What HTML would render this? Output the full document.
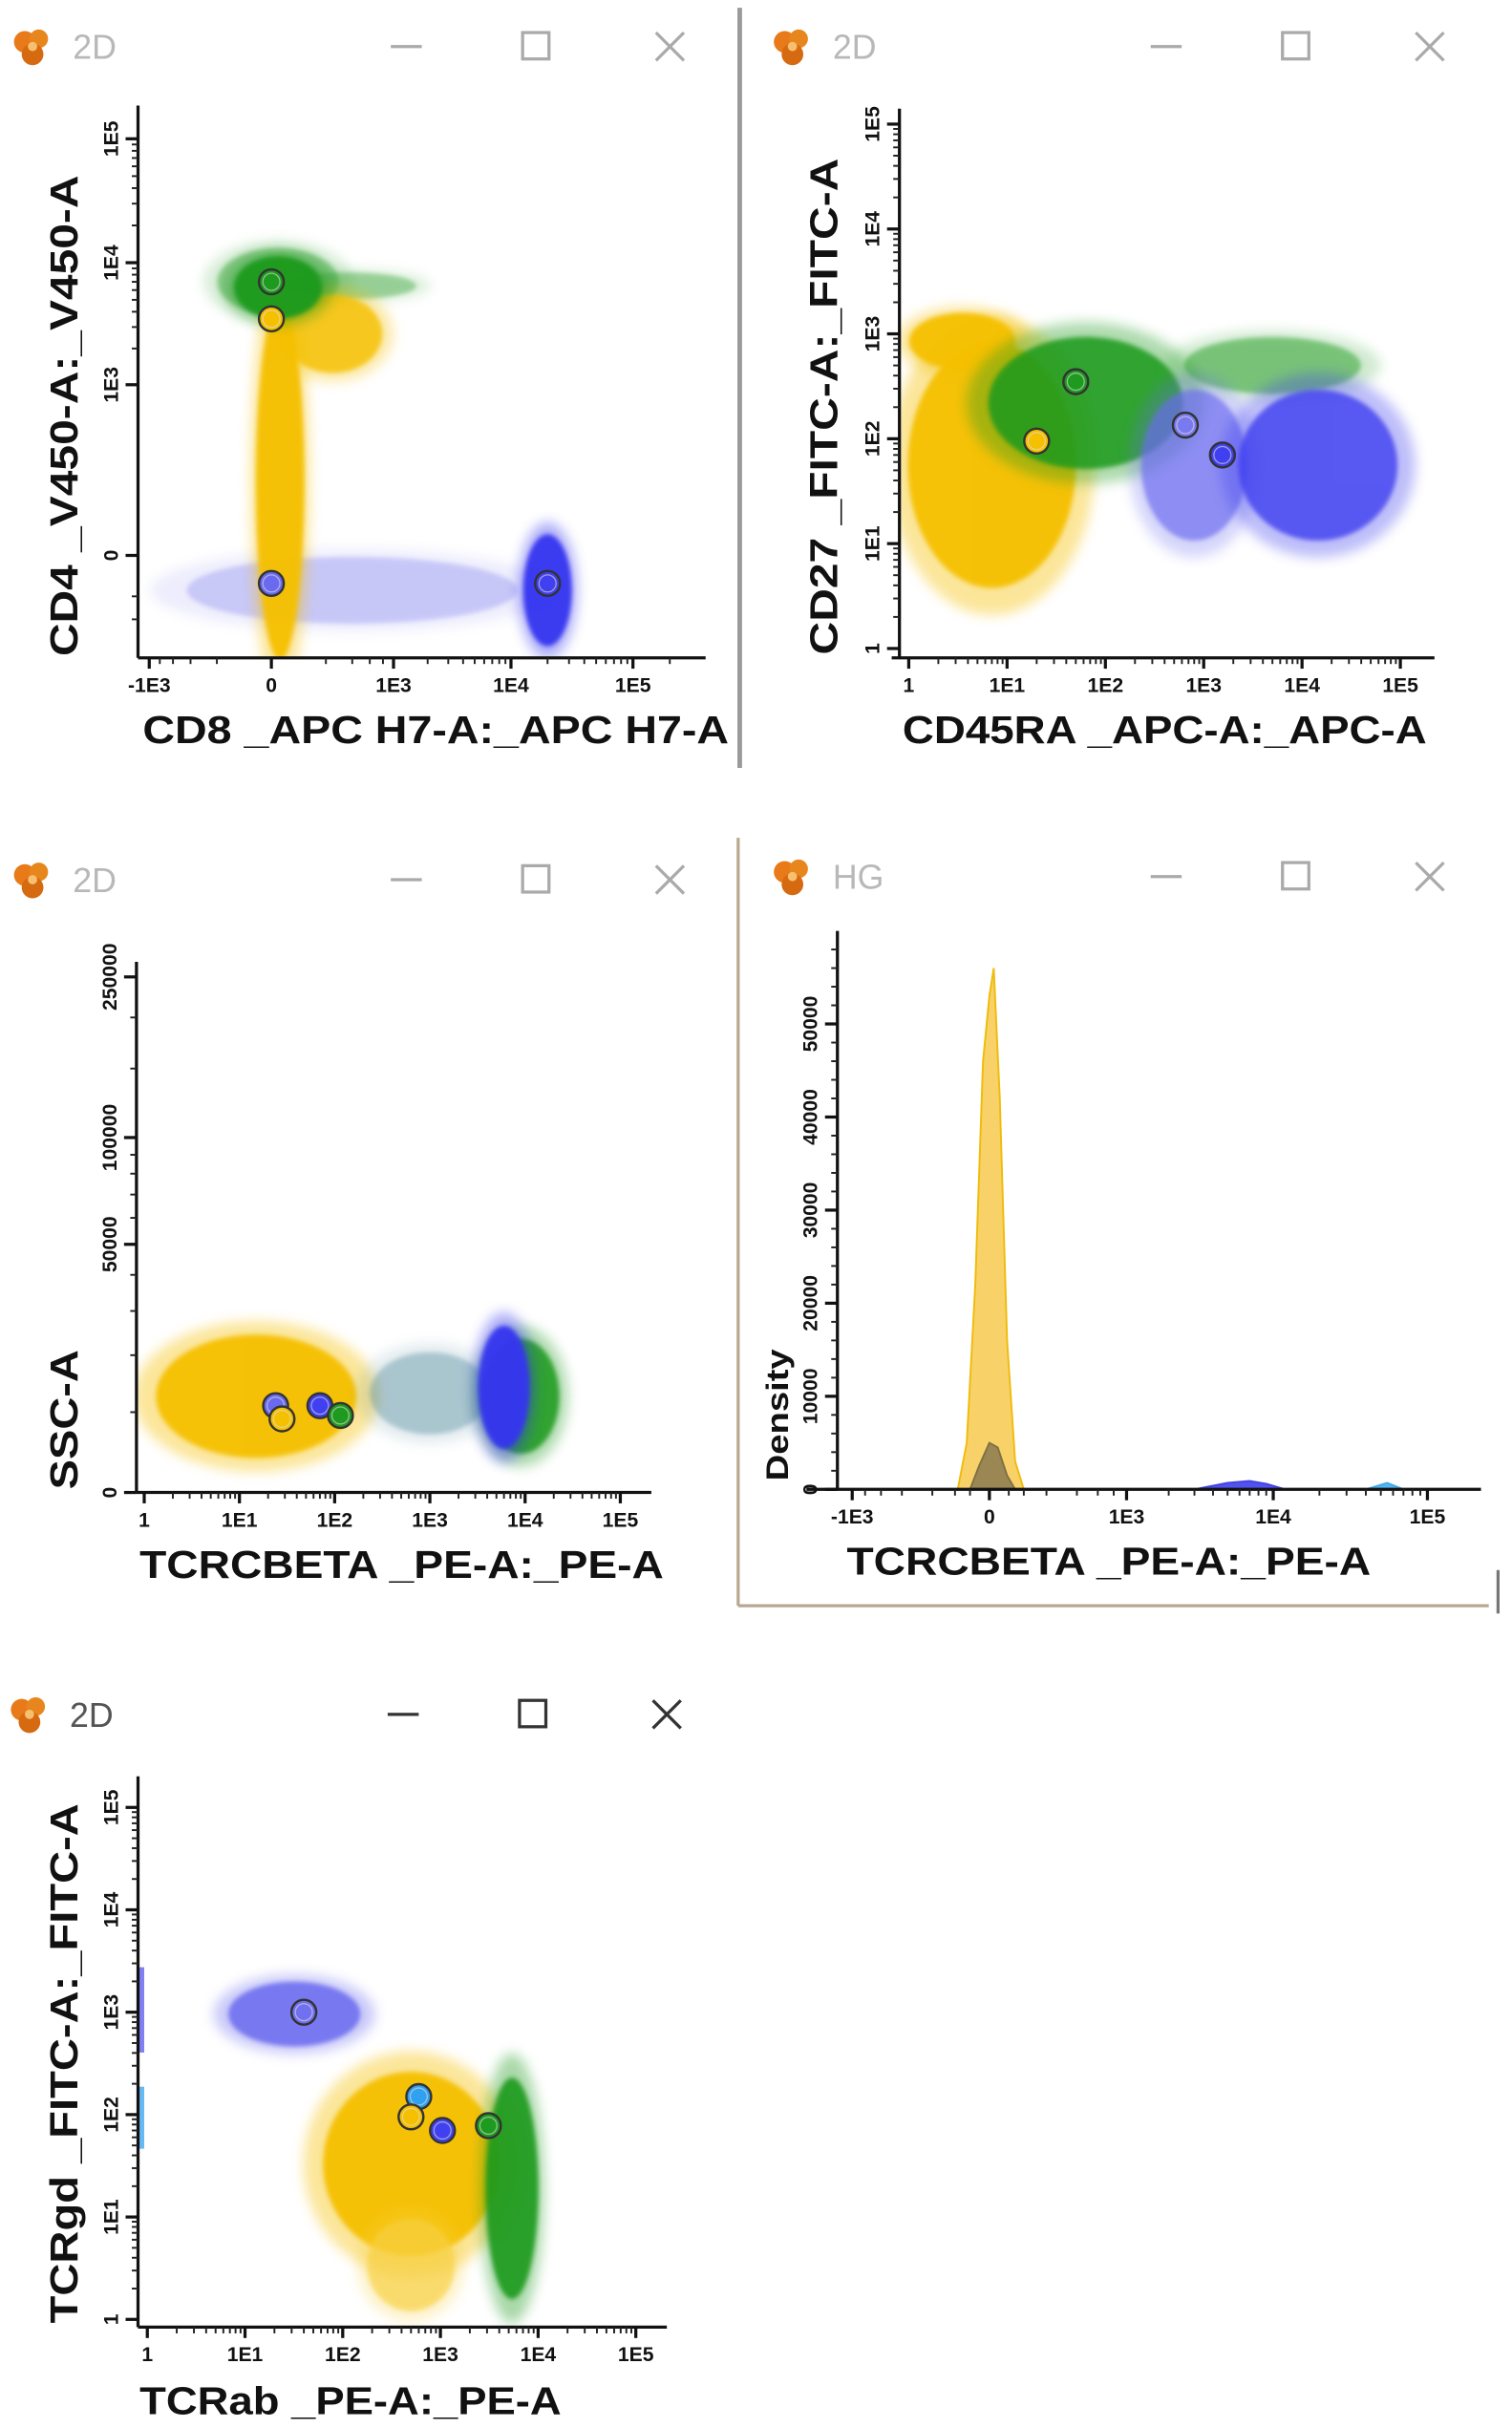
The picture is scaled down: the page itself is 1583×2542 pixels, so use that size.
<!DOCTYPE html>
<html><head><meta charset="utf-8"><style>
html,body{margin:0;padding:0;background:#fff;}
svg{display:block;}
text{font-family:"Liberation Sans",Arial,sans-serif;}
</style></head><body>
<svg id="root" width="1583" height="2542" viewBox="0 0 975 1565" preserveAspectRatio="none" xmlns="http://www.w3.org/2000/svg">
<defs>
<filter id="soft" x="-50%" y="-50%" width="200%" height="200%"><feGaussianBlur stdDeviation="4"/></filter>
<filter id="soft2" x="-50%" y="-50%" width="200%" height="200%"><feGaussianBlur stdDeviation="1.5"/></filter>
</defs>
<line x1="477" y1="5" x2="477" y2="495" stroke="#9a9a9a" stroke-width="3"/>
<line x1="476" y1="540" x2="476" y2="1035" stroke="#b8a890" stroke-width="2"/>
<line x1="476" y1="1035" x2="960" y2="1035" stroke="#b8a890" stroke-width="2"/>
<line x1="966" y1="1012" x2="966" y2="1040" stroke="#777" stroke-width="2"/>
<g id="content"></g>
</svg>
<script>
// ---------- DATA ----------
// Panel 1: CD8 vs CD4 (biexponential)
const p1XTicks = [-1000, 0, 1000, 10000, 100000];
const p1XTickLabels = ["-1E3", "0", "1E3", "1E4", "1E5"];
const p1YTicks = [0, 1000, 10000, 100000];
const p1YTickLabels = ["0", "1E3", "1E4", "1E5"];
const p1ClusterX = [400, 15, 380, 20, 242, 15, 20000];
const p1ClusterY = [-40, 7000, 6500, 131, 2640, 6300, -40];
const p1ClusterSX = [1.5, 0.55, 0.6, 0.22, 0.45, 0.4, 0.22];
const p1ClusterSY = [0.3, 0.3, 0.12, 1.6, 0.35, 0.28, 0.5];
const p1ClusterColor = ["#8080f0", "#3aa53a", "#3aa53a", "#f5c000", "#f5c000", "#1e9a1e", "#3535f0"];
const p1ClusterOpacity = [0.35, 0.5, 0.45, 1, 0.85, 1, 1];
const p1GateX = [0, 0, 0, 20000];
const p1GateY = [7000, 3500, -30, -30];
const p1GateColor = ["#1e9a1e", "#f5c000", "#6a6af0", "#4040f0"];

// Panel 2: CD45RA vs CD27 (log)
const p2XTicks = [1, 10, 100, 1000, 10000, 100000];
const p2XTickLabels = ["1", "1E1", "1E2", "1E3", "1E4", "1E5"];
const p2YTicks = [1, 10, 100, 1000, 10000, 100000];
const p2YTickLabels = ["1", "1E1", "1E2", "1E3", "1E4", "1E5"];
const p2ClusterX = [7, 3.5, 63, 5000, 800, 14500];
const p2ClusterY = [56, 850, 219, 500, 56, 56];
const p2ClusterSX = [0.95, 0.6, 1.1, 1.0, 0.6, 0.9];
const p2ClusterSY = [1.3, 0.3, 0.7, 0.3, 0.8, 0.8];
const p2ClusterColor = ["#f5c000", "#f5c000", "#1e9a1e", "#2aa02a", "#6a6af0", "#4040f0"];
const p2ClusterOpacity = [1, 1, 0.9, 0.55, 0.7, 0.85];
const p2GateX = [50, 20, 650, 1550];
const p2GateY = [350, 95, 135, 70];
const p2GateColor = ["#1e9a1e", "#f5c000", "#7a7af0", "#4040f0"];

// Panel 3: TCRCBETA vs SSC-A
const p3XTicks = [1, 10, 100, 1000, 10000, 100000];
const p3XTickLabels = ["1", "1E1", "1E2", "1E3", "1E4", "1E5"];
const p3YTicks = [0, 50000, 100000, 250000];
const p3YTickLabels = ["0", "50000", "100000", "250000"];
const p3ClusterX = [15, 1000, 9000, 6000];
const p3ClusterY = [12500, 13000, 12500, 14000];
const p3ClusterSX = [1.17, 0.7, 0.45, 0.3];
const p3ClusterSY = [0.15, 0.1, 0.14, 0.15];
const p3ClusterColor = ["#f5c000", "#3a7a90", "#1e9a1e", "#3535f0"];
const p3ClusterOpacity = [1, 0.35, 0.9, 1];
const p3GateX = [24, 28, 70, 115];
const p3GateY = [11000, 9000, 11000, 9500];
const p3GateColor = ["#6a6af0", "#f5c000", "#4040f0", "#1e9a1e"];

// Panel 4: histogram TCRCBETA density
const p4XTicks = [-1000, 0, 1000, 10000, 100000];
const p4XTickLabels = ["-1E3", "0", "1E3", "1E4", "1E5"];
const p4YTicks = [0, 10000, 20000, 30000, 40000, 50000];
const p4YTickLabels = ["0", "10000", "20000", "30000", "40000", "50000"];
const p4YellowX = [-90, -60, -35, -15, 0, 10, 25, 45, 70, 100];
const p4YellowD = [0, 5000, 22000, 46000, 53000, 56000, 42000, 16000, 3000, 0];
const p4GrayX = [-50, -25, 0, 20, 45, 70];
const p4GrayD = [0, 2500, 5000, 4500, 1500, 0];
const p4BlueX = [3000, 5000, 7000, 9000, 12000];
const p4BlueD = [0, 700, 900, 600, 0];
const p4CyanX = [40000, 55000, 70000];
const p4CyanD = [0, 700, 0];

// Panel 5: TCRab vs TCRgd
const p5XTicks = [1, 10, 100, 1000, 10000, 100000];
const p5XTickLabels = ["1", "1E1", "1E2", "1E3", "1E4", "1E5"];
const p5YTicks = [1, 10, 100, 1000, 10000, 100000];
const p5YTickLabels = ["1", "1E1", "1E2", "1E3", "1E4", "1E5"];
const p5ClusterX = [32, 500, 500, 5400];
const p5ClusterY = [960, 33, 3.4, 19];
const p5ClusterSX = [0.75, 1.0, 0.5, 0.3];
const p5ClusterSY = [0.35, 1.0, 0.5, 1.2];
const p5ClusterColor = ["#7070f0", "#f5c000", "#f8d040", "#1e9a1e"];
const p5ClusterOpacity = [0.95, 1, 0.7, 0.95];
const p5GateX = [40, 600, 500, 1050, 3100];
const p5GateY = [1000, 150, 95, 70, 78];
const p5GateColor = ["#7070f0", "#30a0f0", "#f5c000", "#4040f0", "#1e9a1e"];

// ---------- AXIS FUNCTIONS ----------
function logAxis(o, d, dir) { const f = v => o + dir * d * Math.log10(Math.max(v, 1e-9)); f.k = d; return f; }
function biexAxis(o, d, c, dir) { const f = v => o + dir * d * Math.sign(v) * Math.log10(1 + Math.abs(v) / c); f.k = d; return f; }

const NS = "http://www.w3.org/2000/svg";
const content = document.getElementById('content');
function mk(tag, attrs, parent) {
  const e = document.createElementNS(NS, tag);
  for (const k in attrs) e.setAttribute(k, attrs[k]);
  (parent || content).appendChild(e);
  return e;
}

function titleBar(x, y, label, dark) {
  const g = mk('g', {});
  
  
  const ic = mk('g', {}, g);
  
  
  mk('circle', {cx: x - 4, cy: y - 3, r: 7, fill: '#e87a1a'}, ic);
  mk('circle', {cx: x + 5, cy: y - 5, r: 6, fill: '#e8861e'}, ic);
  mk('circle', {cx: x + 1, cy: y + 5, r: 7, fill: '#d66a10'}, ic);
  mk('circle', {cx: x + 1, cy: y, r: 3, fill: '#f6c070'}, ic);
  const t = mk('text', {x: x + 27, y: y + 8, 'font-size': 22, fill: dark ? '#555' : '#b8b8b8'}, g);
  t.textContent = label;
  
  
  const col = dark ? '#333' : '#aaa';
  const mn = mk('line', {x1: x + 232, y1: y, x2: x + 252, y2: y, stroke: col, 'stroke-width': 2}, g);
  
  
  const sq = mk('rect', {x: x + 317, y: y - 9, width: 17, height: 17, fill: 'none', stroke: col, 'stroke-width': 2}, g);
  
  
  const cl = mk('path', {d: `M${x+403} ${y-9} L${x+421} ${y+9} M${x+421} ${y-9} L${x+403} ${y+9}`, stroke: col, 'stroke-width': 2, fill: 'none'}, g);
  
  
}

function axes(o) {
  const g = mk('g', {});
  
  
  mk('line', {x1: o.x0, y1: o.yTop, x2: o.x0, y2: o.y0, stroke: '#111', 'stroke-width': 2}, g);
  mk('line', {x1: o.xLeft !== undefined ? o.xLeft : o.x0, y1: o.y0, x2: o.xRight, y2: o.y0, stroke: '#111', 'stroke-width': 2}, g);
  if (o.minorX) o.minorX.forEach(v => { const px = o.ax(v); if (px > o.x0 - 30 && px < o.xRight) mk('line', {x1: px, y1: o.y0, x2: px, y2: o.y0 + 4, stroke: '#222', 'stroke-width': 1.2}, g); });
  if (o.minorY) o.minorY.forEach(v => { const py = o.ay(v); if (py > o.yTop && py < o.y0 + 20) mk('line', {x1: o.x0 - 4, y1: py, x2: o.x0, y2: py, stroke: '#222', 'stroke-width': 1.2}, g); });
  o.xt.forEach((v, i) => {
    const px = o.ax(v);
    mk('line', {x1: px, y1: o.y0, x2: px, y2: o.y0 + 7, stroke: '#111', 'stroke-width': 2}, g);
    const t = mk('text', {x: px, y: o.y0 + 22, 'font-size': 13, 'font-weight': 'bold', 'text-anchor': 'middle', fill: '#111'}, g);
    t.textContent = o.xl[i];
    
    
  });
  o.yt.forEach((v, i) => {
    const py = o.ay(v);
    mk('line', {x1: o.x0 - 8, y1: py, x2: o.x0, y2: py, stroke: '#111', 'stroke-width': 2}, g);
    const tx = o.x0 - 13;
    const t = mk('text', {x: tx, y: py, 'font-size': 13, 'font-weight': 'bold', 'text-anchor': 'middle', fill: '#111', transform: `rotate(-90 ${tx} ${py})`}, g);
    t.textContent = o.yl[i];
    
    
  });
  const xt = mk('text', {x: o.xlx, y: o.xly, 'font-size': 25, 'font-weight': 'bold', fill: '#111', textLength: o.xlw, lengthAdjust: 'spacingAndGlyphs'}, g);
  xt.textContent = o.xTitle;
  
  
  const yt = mk('text', {x: o.ylx, y: o.yly, 'font-size': o.ylfs || 25, 'font-weight': 'bold', fill: '#111', 'text-anchor': 'middle', transform: `rotate(-90 ${o.ylx} ${o.yly})`, textLength: o.ylw, lengthAdjust: 'spacingAndGlyphs'}, g);
  yt.textContent = o.yTitle;
  
  
}

function logMinor(lo, hi) { const a = []; for (let e = lo; e < hi; e++) for (let m = 2; m <= 9; m++) a.push(m * Math.pow(10, e)); return a; }

function clusters(ax, ay, ky, X, Y, SX, SY, C, OP, clipId) {
  const g = mk('g', {'clip-path': `url(#${clipId})`});
  
  
  X.forEach((v, i) => {
    const cx = ax(v), cy = ay(Y[i]);
    const e1 = mk('ellipse', {cx, cy, rx: SX[i] * ax.k * 1.1, ry: SY[i] * ky * 1.1, fill: C[i], opacity: 0.4 * OP[i], filter: 'url(#soft)'}, g);
    
    
    const e2 = mk('ellipse', {cx, cy, rx: SX[i] * ax.k * 0.9, ry: SY[i] * ky * 0.9, fill: C[i], opacity: 0.95 * OP[i], filter: 'url(#soft2)'}, g);
    
    
  });
}

function gates(ax, ay, X, Y, C) {
  X.forEach((v, i) => {
    const c = mk('circle', {cx: ax(v), cy: ay(Y[i]), r: 8, fill: C[i], stroke: '#333', 'stroke-width': 1.5});
    
    
    mk('circle', {cx: ax(v), cy: ay(Y[i]), r: 5.5, fill: 'none', stroke: '#ddd', 'stroke-width': 0.8, opacity: 0.6});
  });
}

function clip(id, x, y, w, h) { const defs = document.querySelector('defs'); const cp = mk('clipPath', {id}, defs); mk('rect', {x, y, width: w, height: h}, cp); }

// ---------- PANEL 1 ----------
titleBar(20, 30, '2D');
const p1ax = biexAxis(175, 79, 112, 1), p1ay = biexAxis(358, 80, 44, -1);
clip('c1', 90, 60, 370, 363);
clusters(p1ax, p1ay, p1ay.k, p1ClusterX, p1ClusterY, p1ClusterSX, p1ClusterSY, p1ClusterColor, p1ClusterOpacity, 'c1');
gates(p1ax, p1ay, p1GateX, p1GateY, p1GateColor);
axes({name: 'cd8-cd4', x0: 89, y0: 424, yTop: 68, xRight: 455, ax: p1ax, ay: p1ay, xt: p1XTicks, xl: p1XTickLabels, yt: p1YTicks, yl: p1YTickLabels,
  minorX: [-800,-600,-400,-200,200,400,600,800,2000,3000,4000,5000,6000,7000,8000,9000,20000,30000,40000,50000,60000,70000,80000,90000,200000],
  minorY: [-100,-50,2000,3000,4000,5000,6000,7000,8000,9000,20000,30000,40000,50000,60000,70000,80000,90000,200000],
  xTitle: 'CD8 _APC H7-A:_APC H7-A', xlx: 92, xly: 479, xlw: 378, yTitle: 'CD4 _V450-A:_V450-A', ylx: 50, yly: 268, ylw: 310});

// ---------- PANEL 2 ----------
titleBar(510, 30, '2D');
const p2ax = logAxis(586, 63.4, 1), p2ay = logAxis(418, 67.6, -1);
clip('c2', 581, 60, 345, 363);
clusters(p2ax, p2ay, p2ay.k, p2ClusterX, p2ClusterY, p2ClusterSX, p2ClusterSY, p2ClusterColor, p2ClusterOpacity, 'c2');
gates(p2ax, p2ay, p2GateX, p2GateY, p2GateColor);
axes({name: 'cd45ra-cd27', x0: 580, y0: 424, yTop: 70, xLeft: 575, xRight: 925, ax: p2ax, ay: p2ay, xt: p2XTicks, xl: p2XTickLabels, yt: p2YTicks, yl: p2YTickLabels,
  minorX: logMinor(0, 5), minorY: logMinor(0, 5),
  xTitle: 'CD45RA _APC-A:_APC-A', xlx: 582, xly: 479, xlw: 338, yTitle: 'CD27 _FITC-A:_FITC-A', ylx: 540, yly: 262, ylw: 320});

// ---------- PANEL 3 ----------
titleBar(20, 567, '2D');
const p3ax = logAxis(93, 61.4, 1);
const p3ay = (() => { const f = v => 962 - 294 * Math.log10(1 + v / 20000); f.k = 294; return f; })();
clip('c3', 89, 610, 330, 351);
clusters(p3ax, p3ay, 294, p3ClusterX, p3ClusterY, p3ClusterSX, p3ClusterSY, p3ClusterColor, p3ClusterOpacity, 'c3');
gates(p3ax, p3ay, p3GateX, p3GateY, p3GateColor);
axes({name: 'tcrcbeta-ssc', x0: 88, y0: 962, yTop: 620, xRight: 420, ax: p3ax, ay: p3ay, xt: p3XTicks, xl: p3XTickLabels, yt: p3YTicks, yl: p3YTickLabels,
  minorX: logMinor(0, 5), minorY: [10000,20000,30000,40000,60000,70000,80000,90000,150000,200000],
  xTitle: 'TCRCBETA _PE-A:_PE-A', xlx: 90, xly: 1017, xlw: 338, yTitle: 'SSC-A', ylx: 50, yly: 915, ylw: 90});

// ---------- PANEL 4 (histogram) ----------
titleBar(510, 565, 'HG');
const p4ax = biexAxis(638, 100, 150, 1);
const p4ay = (() => { const f = v => 960 - v * 0.006; f.k = 0.006; return f; })();
function area(X, D, fill, stroke, op, name) {
  let d = `M${p4ax(X[0])} ${p4ay(0)}`;
  X.forEach((v, i) => { d += ` L${p4ax(v).toFixed(1)} ${p4ay(D[i]).toFixed(1)}`; });
  d += ` L${p4ax(X[X.length - 1])} ${p4ay(0)} Z`;
  const p = mk('path', {d, fill, stroke, 'stroke-width': 1.2, opacity: op});
  
  
}
area(p4YellowX, p4YellowD, '#f8d060', '#f0b800', 0.95, 'histogram-yellow');
area(p4GrayX, p4GrayD, '#8a7a50', '#6a6040', 0.85, 'histogram-gray');
area(p4BlueX, p4BlueD, '#4040f0', '#3030e0', 0.9, 'histogram-blue');
area(p4CyanX, p4CyanD, '#40b0f0', '#30a0e0', 0.9, 'histogram-cyan');
axes({name: 'histogram', x0: 540, y0: 960, yTop: 600, xLeft: 520, xRight: 955, ax: p4ax, ay: p4ay, xt: p4XTicks, xl: p4XTickLabels, yt: p4YTicks, yl: p4YTickLabels,
  minorX: [-800,-600,-400,-200,-100,-50,50,100,200,400,600,800,2000,3000,4000,5000,6000,7000,8000,9000,20000,30000,40000,50000,60000,70000,80000,90000],
  minorY: [2000,4000,6000,8000,12000,14000,16000,18000,22000,24000,26000,28000,32000,34000,36000,38000,42000,44000,46000,48000,52000,54000,56000,58000],
  xTitle: 'TCRCBETA _PE-A:_PE-A', xlx: 546, xly: 1015, xlw: 338, yTitle: 'Density', ylx: 508, yly: 912, ylw: 85, ylfs: 20});

// ---------- PANEL 5 ----------
titleBar(18, 1105, '2D', true);
const p5ax = logAxis(95, 63, 1), p5ay = logAxis(1495, 66, -1);
clip('c5', 90, 1140, 340, 359);
clusters(p5ax, p5ay, p5ay.k, p5ClusterX, p5ClusterY, p5ClusterSX, p5ClusterSY, p5ClusterColor, p5ClusterOpacity, 'c5');
gates(p5ax, p5ay, p5GateX, p5GateY, p5GateColor);
mk('rect', {x: 89, y: 1268, width: 4, height: 55, fill: '#6060f0', opacity: 0.8});
mk('rect', {x: 89, y: 1345, width: 4, height: 40, fill: '#40a8f0', opacity: 0.8});
axes({name: 'tcrab-tcrgd', x0: 89, y0: 1500, yTop: 1145, xRight: 430, ax: p5ax, ay: p5ay, xt: p5XTicks, xl: p5XTickLabels, yt: p5YTicks, yl: p5YTickLabels,
  minorX: logMinor(0, 5), minorY: logMinor(0, 5),
  xTitle: 'TCRab _PE-A:_PE-A', xlx: 90, xly: 1556, xlw: 272, yTitle: 'TCRgd _FITC-A:_FITC-A', ylx: 50, yly: 1330, ylw: 335});
</script>
</body></html>
